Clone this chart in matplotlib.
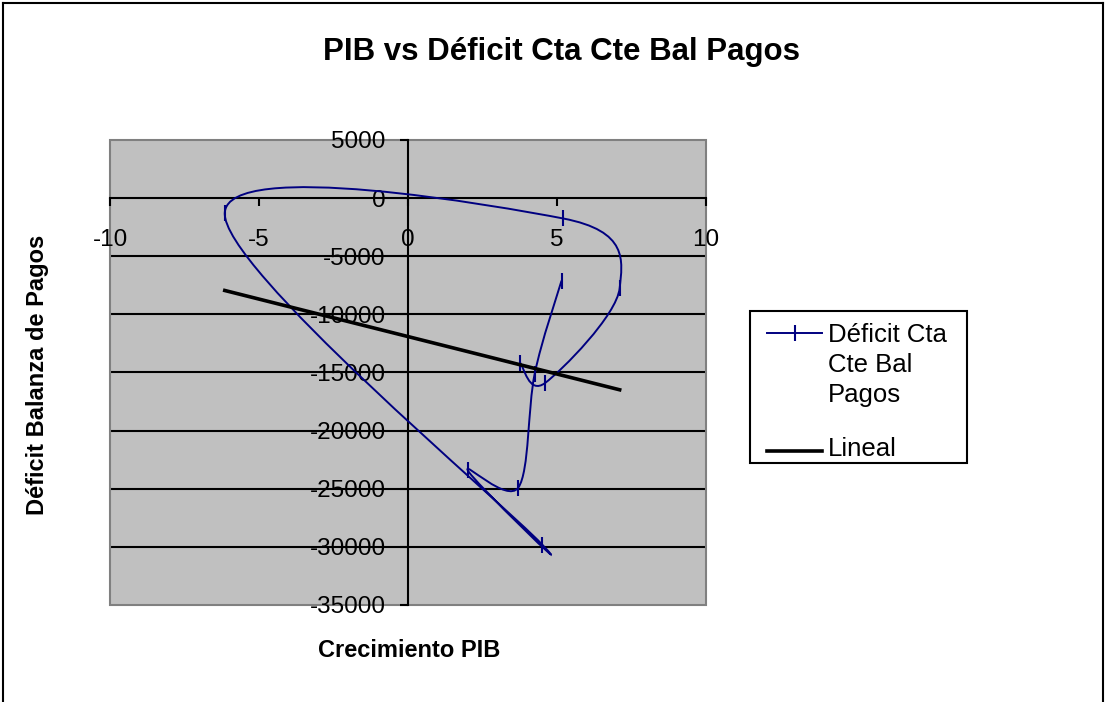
import numpy as np
import matplotlib
matplotlib.use("Agg")
import matplotlib.pyplot as plt
from matplotlib.path import Path
from matplotlib.patches import PathPatch, Rectangle
from matplotlib.lines import Line2D

plt.rcParams['font.family'] = ['Liberation Sans', 'DejaVu Sans']

# crecimiento del PIB (%) y deficit de cuenta corriente, en orden cronologico
crecimiento = [5.15, 4.25, 3.7, 2.0, 4.5, -6.15, 5.2, 7.1, 4.6, 3.75]
deficit = [-7100, -15100, -24900, -23400, -29800, -1250, -1750, -7750, -15900, -14150]

x_ticks = [-10, -5, 0, 5, 10]
y_ticks = [5000, 0, -5000, -10000, -15000, -20000, -25000, -30000, -35000]
y_grid = [-5000, -10000, -15000, -20000, -25000, -30000]

serie_label = ['Déficit Cta', 'Cte Bal', 'Pagos']
trend_label = 'Lineal'

navy = '#000080'
W, H = 1106, 702


def smooth_path(xs, ys):
    # curva suavizada tipo Excel (bezier con puntos de control a 1/6)
    pts = np.column_stack([xs, ys]).astype(float)
    n = len(pts)
    verts = [pts[0]]
    codes = [Path.MOVETO]
    for i in range(n - 1):
        p_prev = pts[i - 1] if i > 0 else pts[i]
        p_next2 = pts[i + 2] if i + 2 < n else pts[i + 1]
        c1 = pts[i] + (pts[i + 1] - p_prev) / 6.0
        c2 = pts[i + 1] - (p_next2 - pts[i]) / 6.0
        verts += [c1, c2, pts[i + 1]]
        codes += [Path.CURVE4] * 3
    return Path(verts, codes)


def fx(px):
    return px / W


def fy(py):
    return 1 - py / H


fig = plt.figure(figsize=(11.06, 7.02), dpi=100)
ax = fig.add_axes([0.0995, 0.1382, 0.5389, 0.6624])
ax.set_facecolor('#C0C0C0')
ax.set_xlim(-10, 10)
ax.set_ylim(-35000, 5000)

for g in y_grid:
    ax.axhline(g, color='black', lw=1.5, zorder=1)

ax.spines['left'].set_position(('data', 0))
ax.spines['bottom'].set_position(('data', 0))
for s in ['left', 'bottom']:
    ax.spines[s].set_linewidth(1.5)
    ax.spines[s].set_zorder(1.5)
for s in ['top', 'right']:
    ax.spines[s].set_visible(False)
ax.add_patch(Rectangle((0, 0), 1, 1, transform=ax.transAxes, fill=False,
                       edgecolor='#808080', lw=1.5, zorder=1.2, clip_on=False))

ax.set_xticks(x_ticks)
ax.set_yticks(y_ticks)
ax.set_xticklabels([str(v) for v in x_ticks])
ax.set_yticklabels([str(v) for v in y_ticks])
ax.tick_params(axis='x', direction='out', length=6, width=1.5, pad=16, labelsize=17.5)
ax.tick_params(axis='y', direction='out', length=6, width=1.5, pad=10, labelsize=17.5)

# serie suavizada
ax.add_patch(PathPatch(smooth_path(crecimiento, deficit), fill=False,
                       edgecolor=navy, lw=1.4, zorder=3))
ax.plot(crecimiento, deficit, ls='none', marker='|', ms=12, mew=1.5,
        color=navy, zorder=3.5)

# tendencia lineal
coef = np.polyfit(crecimiento, deficit, 1)
xt = np.array([min(crecimiento), max(crecimiento)])
ax.plot(xt, np.polyval(coef, xt), color='black', lw=2.6, zorder=4)

fig.text(0.508, 0.926, 'PIB vs Déficit Cta Cte Bal Pagos', ha='center', va='center',
         fontsize=22.5, fontweight='bold')
fig.text(0.37, 0.074, 'Crecimiento PIB', ha='center', va='center',
         fontsize=17, fontweight='bold')
fig.text(0.034, 0.466, 'Déficit Balanza de Pagos', ha='center', va='center',
         rotation=90, fontsize=17, fontweight='bold')

# leyenda dibujada a mano (el simbolo va alineado con la primera linea)
fig.add_artist(Rectangle((fx(750), fy(463)), fx(967) - fx(750), fy(311) - fy(463),
                         transform=fig.transFigure, facecolor='white',
                         edgecolor='black', lw=1.5))
fig.add_artist(Line2D([fx(767), fx(822)], [fy(333), fy(333)], transform=fig.transFigure,
                      color=navy, lw=1.4))
fig.add_artist(Line2D([fx(794.5)], [fy(333)], transform=fig.transFigure, color=navy,
                      marker='|', ms=12, mew=1.5))
fig.add_artist(Line2D([fx(767), fx(822)], [fy(451), fy(451)], transform=fig.transFigure,
                      color='black', lw=2.6))
for k, txt in enumerate(serie_label):
    fig.text(fx(828), fy(342 + 30 * k), txt, ha='left', va='baseline', fontsize=18.5)
fig.text(fx(828), fy(456), trend_label, ha='left', va='baseline', fontsize=18.5)

# marco del grafico
for xs, ys in [([0.003, 0.003], [0.0, 0.996]), ([0.003, 0.997], [0.996, 0.996]),
               ([0.997, 0.997], [0.0, 0.996])]:
    fig.add_artist(Line2D(xs, ys, transform=fig.transFigure, color='black', lw=1.5))

fig.savefig('out.png', dpi=100)
